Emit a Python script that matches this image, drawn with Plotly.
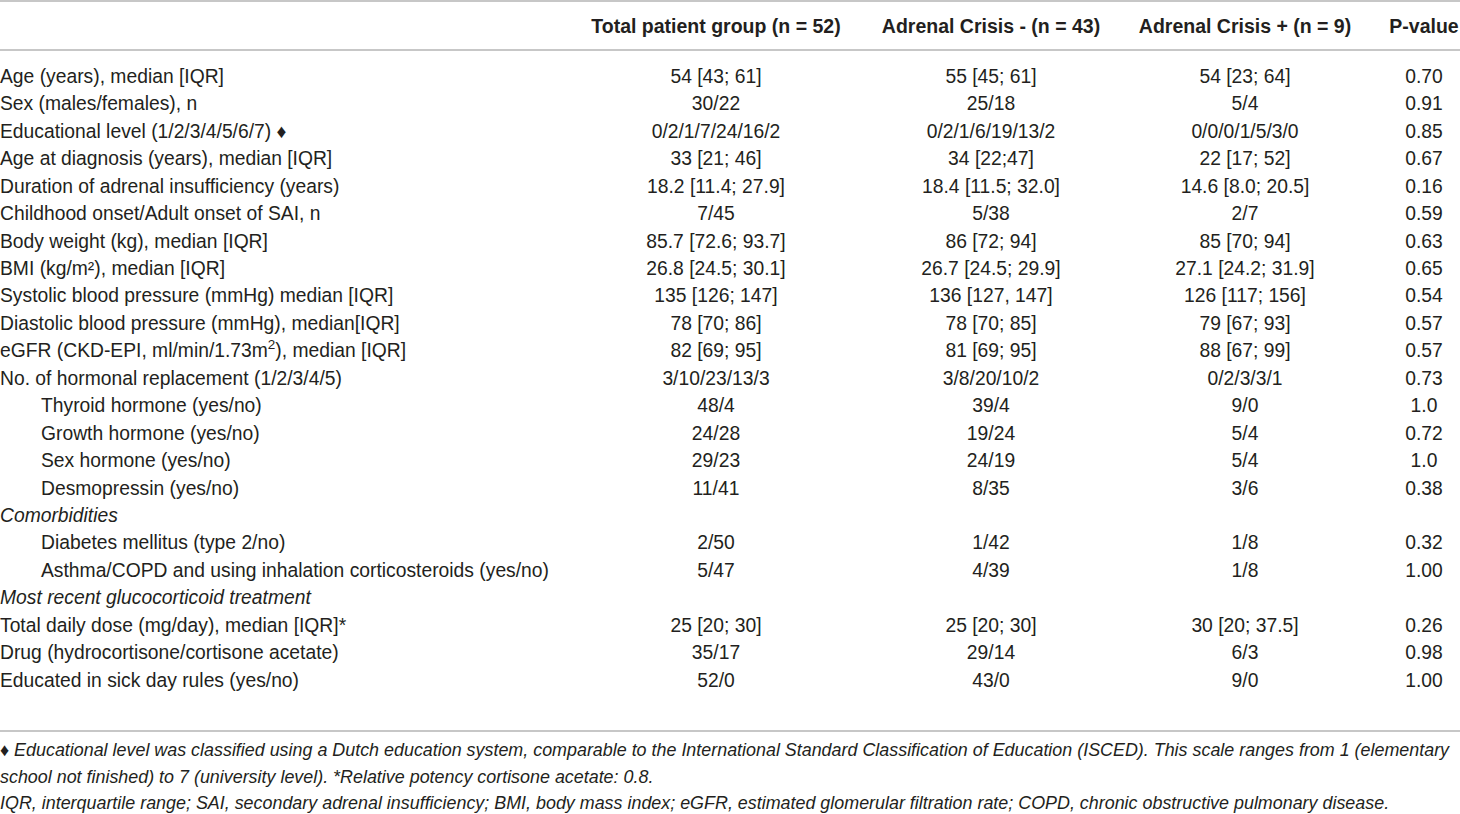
"""Baseline characteristics table (adrenal crisis study) rebuilt as a Plotly
figure: text traces on a pixel-unit axis plus a few horizontal rules."""
import plotly.graph_objects as go

# ----- table content -----
headers = ["Total patient group (n = 52)", "Adrenal Crisis - (n = 43)",
           "Adrenal Crisis + (n = 9)", "P-value"]

row_labels = [
    "Age (years), median [IQR]",
    "Sex (males/females), n",
    "Educational level (1/2/3/4/5/6/7) \u2666",
    "Age at diagnosis (years), median [IQR]",
    "Duration of adrenal insufficiency (years)",
    "Childhood onset/Adult onset of SAI, n",
    "Body weight (kg), median [IQR]",
    "BMI (kg/m\u00b2), median [IQR]",
    "Systolic blood pressure (mmHg) median [IQR]",
    "Diastolic blood pressure (mmHg), median[IQR]",
    "eGFR (CKD-EPI, ml/min/1.73m<sup>2</sup>), median [IQR]",
    "No. of hormonal replacement (1/2/3/4/5)",
    "Thyroid hormone (yes/no)",
    "Growth hormone (yes/no)",
    "Sex hormone (yes/no)",
    "Desmopressin (yes/no)",
    "<i>Comorbidities</i>",
    "Diabetes mellitus (type 2/no)",
    "Asthma/COPD and using inhalation corticosteroids (yes/no)",
    "<i>Most recent glucocorticoid treatment</i>",
    "Total daily dose (mg/day), median [IQR]*",
    "Drug (hydrocortisone/cortisone acetate)",
    "Educated in sick day rules (yes/no)",
]
# rows shown indented under a group heading
indented = [False] * 12 + [True] * 4 + [False, True, True] + [False] * 4

total_group = [
    "54 [43; 61]", "30/22", "0/2/1/7/24/16/2", "33 [21; 46]",
    "18.2 [11.4; 27.9]", "7/45", "85.7 [72.6; 93.7]", "26.8 [24.5; 30.1]",
    "135 [126; 147]", "78 [70; 86]", "82 [69; 95]", "3/10/23/13/3",
    "48/4", "24/28", "29/23", "11/41", "", "2/50", "5/47", "",
    "25 [20; 30]", "35/17", "52/0",
]
crisis_neg = [
    "55 [45; 61]", "25/18", "0/2/1/6/19/13/2", "34 [22;47]",
    "18.4 [11.5; 32.0]", "5/38", "86 [72; 94]", "26.7 [24.5; 29.9]",
    "136 [127, 147]", "78 [70; 85]", "81 [69; 95]", "3/8/20/10/2",
    "39/4", "19/24", "24/19", "8/35", "", "1/42", "4/39", "",
    "25 [20; 30]", "29/14", "43/0",
]
crisis_pos = [
    "54 [23; 64]", "5/4", "0/0/0/1/5/3/0", "22 [17; 52]",
    "14.6 [8.0; 20.5]", "2/7", "85 [70; 94]", "27.1 [24.2; 31.9]",
    "126 [117; 156]", "79 [67; 93]", "88 [67; 99]", "0/2/3/3/1",
    "9/0", "5/4", "5/4", "3/6", "", "1/8", "1/8", "",
    "30 [20; 37.5]", "6/3", "9/0",
]
p_values = [
    "0.70", "0.91", "0.85", "0.67", "0.16", "0.59", "0.63", "0.65",
    "0.54", "0.57", "0.57", "0.73", "1.0", "0.72", "1.0", "0.38", "",
    "0.32", "1.00", "", "0.26", "0.98", "1.00",
]

footnotes = [
    "\u2666 Educational level was classified using a Dutch education system, "
    "comparable to the International Standard Classification of Education "
    "(ISCED). This scale ranges from 1 (elementary",
    "school not finished) to 7 (university level). *Relative potency "
    "cortisone acetate: 0.8.",
    "IQR, interquartile range; SAI, secondary adrenal insufficiency; BMI, "
    "body mass index; eGFR, estimated glomerular filtration rate; COPD, "
    "chronic obstructive pulmonary disease.",
]

# ----- layout (pixel units) -----
W, H = 1460, 814
FONT = "Liberation Sans"
FS = 19.3
HEAD_FS = 19.5
FOOT_FS = 17.9
INK = "#231f20"
RULE = "#b4b4b4"
col_x = [716, 991, 1245, 1424]
label_x, indent_x = 0, 41
header_y = 28
row0_y, row_h = 78, 27.45
rule_y = [1, 50, 731]
foot_y0, foot_h = 752, 26.5

row_y = [row0_y + i * row_h for i in range(len(row_labels))]

fig = go.Figure()

# header row
fig.add_trace(go.Scatter(
    x=col_x, y=[header_y] * len(headers),
    text=[f"<b>{h}</b>" for h in headers],
    mode="text", textposition="middle center",
    textfont=dict(family=FONT, size=HEAD_FS, color=INK),
    hoverinfo="skip", showlegend=False, cliponaxis=False,
))

# row labels, plain and indented
for flag, x0 in ((False, label_x), (True, indent_x)):
    idx = [i for i, f in enumerate(indented) if f == flag]
    fig.add_trace(go.Scatter(
        x=[x0] * len(idx), y=[row_y[i] for i in idx],
        text=[row_labels[i] for i in idx],
        mode="text", textposition="middle right",
        textfont=dict(family=FONT, size=FS, color=INK),
        hoverinfo="skip", showlegend=False, cliponaxis=False,
    ))

# value columns
for cx, values in zip(col_x, (total_group, crisis_neg, crisis_pos, p_values)):
    fig.add_trace(go.Scatter(
        x=[cx] * len(values), y=row_y, text=values,
        mode="text", textposition="middle center",
        textfont=dict(family=FONT, size=FS, color=INK),
        hoverinfo="skip", showlegend=False, cliponaxis=False,
    ))

# footnotes
fig.add_trace(go.Scatter(
    x=[label_x] * len(footnotes),
    y=[foot_y0 + i * foot_h for i in range(len(footnotes))],
    text=[f"<i>{t}</i>" for t in footnotes],
    mode="text", textposition="middle right",
    textfont=dict(family=FONT, size=FOOT_FS, color=INK),
    hoverinfo="skip", showlegend=False, cliponaxis=False,
))

for y in rule_y:
    fig.add_shape(type="line", xref="x", yref="y", x0=0, x1=W, y0=y, y1=y,
                  line=dict(color=RULE, width=1.5))

fig.update_layout(
    width=W, height=H,
    margin=dict(l=0, r=0, t=0, b=0),
    paper_bgcolor="white", plot_bgcolor="white",
    xaxis=dict(range=[0, W], visible=False, fixedrange=True),
    yaxis=dict(range=[H, 0], visible=False, fixedrange=True),
)

# drop the default 8px page margin so the figure sits at the window corner
fig.write_html("out.html", config={"displayModeBar": False},
               post_script="document.body.style.margin='0';")
